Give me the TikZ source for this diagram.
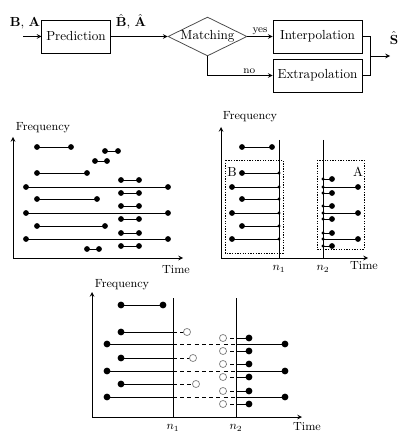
\documentclass[tikz,border=0pt]{standalone}
\usepackage{amsmath,amssymb}
\usepackage{tikz}
\usetikzlibrary{shapes.geometric}

\begin{document}
\begin{tikzpicture}[x=0.76pt,y=-0.76pt,line width=0.6pt,
    block/.style={draw,rectangle,minimum height=25pt},
    decision/.style={draw=black!70,diamond,aspect=2,inner sep=0pt,minimum width=60pt,minimum height=29.5pt},
    track/.style={line width=0.65pt},
    gap/.style={dash pattern=on 3pt off 2.5pt},
    box/.style={dash pattern=on 1pt off 1pt,line width=0.7pt}]
  \useasboundingbox (0,0) rectangle (408,438);

  % block diagram
  \node[block] (pred) at (76,36.5) {Prediction};
  \node[decision] (match) at (207.5,36.5) {Matching};
  \node[block,minimum width=67.5pt] (interp) at (317.5,36.5) {Interpolation};
  \node[block,minimum width=67.5pt] (extrap) at (317.5,75.5) {Extrapolation};
  \coordinate (in) at (23,36.5);
  \coordinate (join) at (370,56);
  \coordinate (out) at (390,56);
  \node (ba) at (25,23) {$\mathbf{B}$, $\mathbf{A}$};
  \node (bahat) at (131,22) {$\hat{\mathbf{B}}$, $\hat{\mathbf{A}}$};
  \node (shat) at (394,38) {$\hat{\mathbf{S}}$};
  \draw[-stealth] (in) -- (pred);
  \draw[-stealth] (pred) -- (match);
  \draw[-stealth] (match) -- (interp) node[midway,above,inner sep=1pt,font=\footnotesize]{yes};
  \draw[-stealth] (match.south) |- (extrap.west) node[pos=0.82,above,inner sep=1.5pt,font=\footnotesize]{no};
  \draw (interp.east) -| (join);
  \draw (extrap.east) -| (join);
  \draw[-stealth] (join) -- (out);

  % tracks
  \draw[-stealth] (13,258) -- (183,258);
  \draw[-stealth] (13,258) -- (13,137);
  \node[font=\small] (freq1) at (43,128) {Frequency};
  \node[font=\small] (time1) at (176,270) {Time};
  \foreach \a/\b/\y in {37/71/147, 105/118/151, 95/107/161, 37/87/173, 121/139/180,
      26/168/187, 121/139/193, 37/97/199, 121/139/206, 26/168/213, 121/139/219,
      37/105/226, 121/139/233, 26/168/239, 121/139/246, 87/99/249}
    \draw[track] (\a,\y) -- (\b,\y) (\a,\y) node[circle,fill,inner sep=0pt,minimum size=4.4pt]{}
      (\b,\y) node[circle,fill,inner sep=0pt,minimum size=4.4pt]{};

  % tracks cut at n1 and n2
  \draw[-stealth] (221,258) -- (368,258);
  \draw[-stealth] (221,258) -- (221,127);
  \node[font=\small] (freq2) at (250,117) {Frequency};
  \node[font=\small] (time2) at (364,266) {Time};
  \node[font=\small] (na1) at (279,269) {$n_1$};
  \node[font=\small] (na2) at (323,269) {$n_2$};
  \draw (279,140) -- (279,258);
  \draw (323,140) -- (323,258);
  \draw[box] (225,160) rectangle (283,253);
  \draw[box] (317,160) rectangle (364,249);
  \node (blab) at (232,172) {B};
  \node (alab) at (358,172) {A};
  \draw[track] (242,147) -- (272,147);
  \fill (242,147) circle (2.2pt) (272,147) circle (2.2pt);
  \foreach \a/\y in {242/173, 232/187, 242/199, 232/213, 242/226, 232/239} {
    \draw[track] (\a,\y) -- (279,\y);
    \fill (\a,\y) circle (2.2pt) (279,\y) circle (1.3pt);
  }
  \foreach \b/\y in {332/179, 358/187, 332/193, 332/206, 358/213, 332/219, 332/233, 358/239, 332/246} {
    \draw[track] (323,\y) -- (\b,\y);
    \fill (323,\y) circle (1.3pt) (\b,\y) circle (2.2pt);
  }

  % matched tracks
  \draw[-stealth] (92,417) -- (302,417);
  \draw[-stealth] (92,417) -- (92,292);
  \node[font=\small] (freq3) at (122,285) {Frequency};
  \node[font=\small] (time3) at (307,427) {Time};
  \node[font=\small] (nb1) at (173,428) {$n_1$};
  \node[font=\small] (nb2) at (236,428) {$n_2$};
  \draw (173,298) -- (173,417);
  \draw (236,298) -- (236,417);
  \draw[track] (121,305) -- (163,305);
  \fill (121,305) circle (2.6pt) (163,305) circle (2.6pt);
  \foreach \y in {344, 371, 397} {
    \draw[track] (107,\y) -- (173,\y) (236,\y) -- (285,\y);
    \draw[track,gap] (173,\y) -- (236,\y);
    \fill (107,\y) circle (2.6pt) (285,\y) circle (2.6pt);
  }
  \foreach \c/\y in {187/332, 193/358, 196/384} {
    \draw[track] (121,\y) -- (173,\y);
    \draw[track,gap] (173,\y) -- (\c,\y);
    \fill (121,\y) circle (2.6pt);
    \draw[gray,fill=white,line width=0.55pt] (\c,\y) circle (2.7pt);
  }
  \foreach \y in {338, 351, 364, 377, 391, 404} {
    \draw[track,gap] (223,\y) -- (236,\y);
    \draw[track] (236,\y) -- (249,\y);
    \fill (249,\y) circle (2.6pt);
    \draw[gray,fill=white,line width=0.55pt] (223,\y) circle (2.7pt);
  }
\end{tikzpicture}
\end{document}
